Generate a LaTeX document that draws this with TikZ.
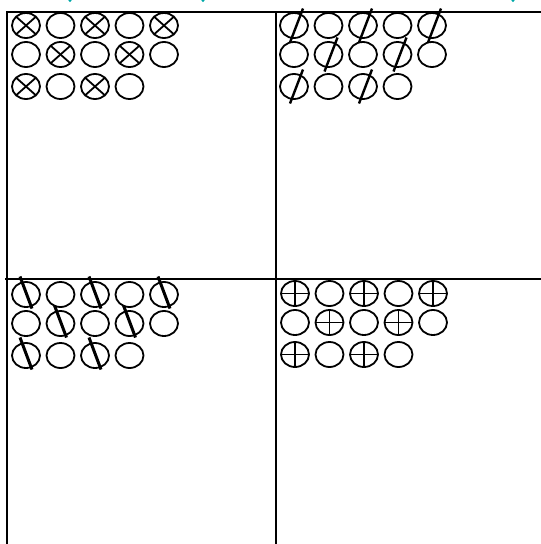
\documentclass[tikz,border=0pt]{standalone}
\definecolor{dotteal}{RGB}{0,168,168}
\begin{document}
\begin{tikzpicture}[x=1pt,y=-1pt,
  frame/.style={line width=2pt,black},
  circ/.style={line width=1.8pt,black},
  slashA/.style={line width=2.4pt,black},
  slashB/.style={line width=3pt,black}]
\useasboundingbox (0,0) rectangle (541,544);
% teal marks at top edge
\foreach \xx in {70,203,513} \fill[dotteal] (\xx,0.5) circle (1.7pt);
% frame
\draw[frame] (7,12) -- (541,12);
\draw[frame] (5,279) -- (541,279);
\draw[frame] (7,11) -- (7,544);
\draw[frame] (276,11) -- (276,544);
% panels: #1 left x, #2 first row centre y, #3 mark type
\newcommand\mypanel[3]{%
  \foreach \r/\cols in {0/{0,1,2,3,4},1/{0,1,2,3,4},2/{0,1,2,3}}{%
    \foreach \c in \cols {%
      \pgfmathsetmacro\cx{#1+19+34.5*\c}%
      \pgfmathsetmacro\cy{#2+(\r==0?0:(\r==1?29:61))}%
      \draw[circ] (\cx,\cy) ellipse [x radius=14pt, y radius=12.5pt];
      \pgfmathtruncatemacro\marked{mod(\c+\r,2)==0}%
      \ifnum\marked=1
        \ifcase#3\relax
        \or % cross x
          \draw[circ] (\cx-9.9,\cy-8.8) -- (\cx+9.9,\cy+8.8);
          \draw[circ] (\cx-9.9,\cy+8.8) -- (\cx+9.9,\cy-8.8);
        \or % slash forward
          \draw[slashA] (\cx-4,\cy+17) -- (\cx+9,\cy-17);
        \or % slash back
          \draw[slashB] (\cx-6,\cy-18) -- (\cx+6,\cy+14);
        \or % plus
          \draw[circ] (\cx-14,\cy) -- (\cx+14,\cy);
          \draw[circ] (\cx,\cy-12.5) -- (\cx,\cy+12.5);
        \fi
      \fi
    }%
  }%
}
\mypanel{7}{25.5}{1}
\mypanel{275}{25.5}{2}
\mypanel{7}{294.5}{3}
\mypanel{276}{293.5}{4}
\end{tikzpicture}
\end{document}
